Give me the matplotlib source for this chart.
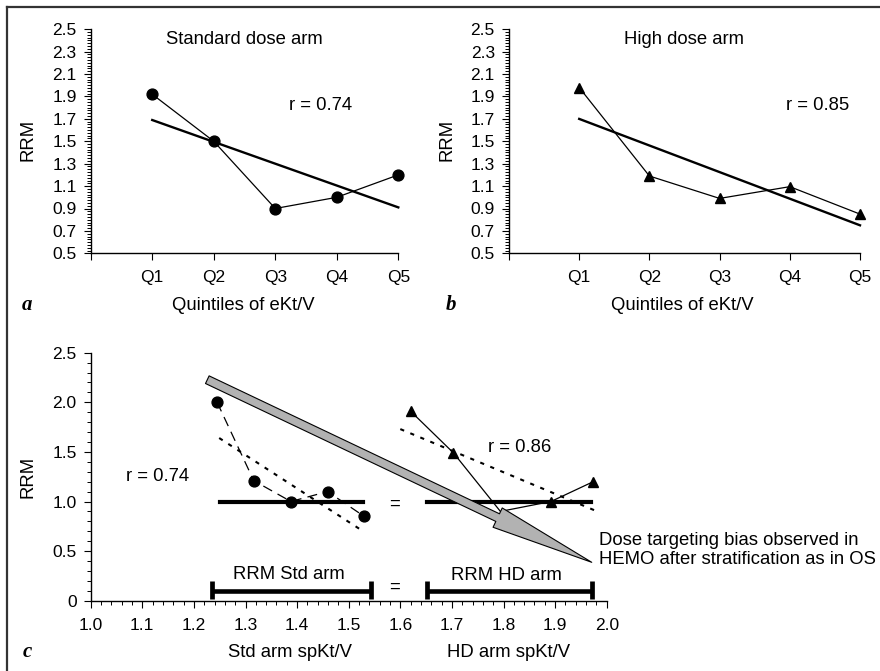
import matplotlib
matplotlib.use('Agg')
import matplotlib.pyplot as plt
from matplotlib.ticker import MultipleLocator, FixedLocator, FuncFormatter
from matplotlib.lines import Line2D

plt.rcParams['font.family'] = ['Liberation Sans', 'DejaVu Sans']

# ---------------- data ----------------
quintiles = ['Q1', 'Q2', 'Q3', 'Q4', 'Q5']
std_rrm = [1.92, 1.50, 0.90, 1.00, 1.20]
std_fit = [1.69, 0.91]          # regression line at Q1 and Q5
hd_rrm = [1.98, 1.19, 0.99, 1.095, 0.85]
hd_fit = [1.70, 0.75]

c_std_x = [1.245, 1.316, 1.388, 1.459, 1.530]
c_std_y = [2.00, 1.21, 1.00, 1.10, 0.85]
c_std_fit_x = [1.249, 1.528]
c_std_fit_y = [1.64, 0.70]
c_hd_x = [1.620, 1.703, 1.794, 1.892, 1.974]
c_hd_y = [1.91, 1.49, 0.90, 1.00, 1.20]
c_hd_fit_x = [1.600, 1.977]
c_hd_fit_y = [1.73, 0.91]
mean_level = 1.0
mean_std_x = [1.250, 1.528]
mean_hd_x = [1.651, 1.969]
range_level = 0.095
range_std_x = [1.236, 1.543]
range_hd_x = [1.651, 1.971]
arrow_tail = (1.226, 2.228)
arrow_tip = (1.971, 0.387)

TICK_FS = 12.5
TXT_FS = 13.3

fig = plt.figure(figsize=(8.8, 6.71), dpi=100)

# figure frame (top and left edges visible)
fx = 6.7 / 880
fy = 1 - 6.7 / 671
fig.add_artist(Line2D([fx, 1.0], [fy, fy], transform=fig.transFigure, color='#333333', lw=1.6))
fig.add_artist(Line2D([fx, fx], [0.0, fy], transform=fig.transFigure, color='#333333', lw=1.6))


def style_axes(ax):
    for s in ['top', 'right']:
        ax.spines[s].set_visible(False)
    for s in ['left', 'bottom']:
        ax.spines[s].set_linewidth(1.0)
    ax.tick_params(which='major', direction='out', length=5.2, width=0.8,
                   labelsize=TICK_FS, pad=5)
    ax.tick_params(axis='x', which='major', pad=7)
    ax.tick_params(which='minor', direction='out', length=3.0, width=0.7)


def quintile_panel(rect, values, fit, marker, title, rtext, rpos, letter, ylab_x, letter_x):
    ax = fig.add_axes(rect)
    style_axes(ax)
    xs = list(range(1, len(quintiles) + 1))
    ax.plot(xs, values, color='black', lw=0.9, marker=marker, ms=7.8,
            mfc='black', mec='black', clip_on=False, zorder=3)
    ax.plot([xs[0], xs[-1]], fit, color='black', lw=1.7, clip_on=False, zorder=2)
    ax.set_xlim(0, 5)
    ax.set_ylim(0.5, 2.5)
    ax.xaxis.set_major_locator(FixedLocator([0] + xs))
    ax.set_xticklabels([''] + quintiles)
    ax.yaxis.set_major_locator(FixedLocator([0.5 + 0.2 * i for i in range(11)]))
    ax.yaxis.set_major_formatter(FuncFormatter(lambda v, p: '%.1f' % v))
    ax.yaxis.set_minor_locator(MultipleLocator(0.025))
    ax.text(2.49, 2.41, title, fontsize=TXT_FS, ha='center', va='center')
    ax.text(rpos[0], rpos[1], rtext, fontsize=TXT_FS, ha='center', va='center')
    ax.text(0.495, -0.231, 'Quintiles of eKt/V', transform=ax.transAxes,
            fontsize=TXT_FS, ha='center', va='center')
    ax.text(ylab_x, 0.506, 'RRM', transform=ax.transAxes, rotation=90,
            fontsize=TXT_FS, ha='center', va='center')
    ax.text(letter_x, -0.231, letter, transform=ax.transAxes, fontsize=15,
            family='Liberation Serif', weight='bold', style='italic',
            ha='center', va='center')
    return ax


quintile_panel([90.7 / 880, 1 - 253.3 / 671, (398.3 - 90.7) / 880, 224 / 671],
               std_rrm, std_fit, 'o', 'Standard dose arm', 'r = 0.74', (3.73, 1.82),
               'a', -0.204, -0.207)
quintile_panel([509 / 880, 1 - 253.3 / 671, (860 - 509) / 880, 224 / 671],
               hd_rrm, hd_fit, '^', 'High dose arm', 'r = 0.85', (4.39, 1.82),
               'b', -0.177, -0.165)

# ---------------- panel c ----------------
axc = fig.add_axes([90.7 / 880, 1 - 600.7 / 671, 516 / 880, 248 / 671])
style_axes(axc)
axc.set_xlim(1.0, 2.0)
axc.set_ylim(0, 2.5)
axc.xaxis.set_major_locator(MultipleLocator(0.1))
axc.xaxis.set_minor_locator(MultipleLocator(0.02))
axc.xaxis.set_major_formatter(FuncFormatter(lambda v, p: '%.1f' % v))
axc.yaxis.set_major_locator(MultipleLocator(0.5))
axc.yaxis.set_minor_locator(MultipleLocator(0.1))
axc.yaxis.set_major_formatter(FuncFormatter(lambda v, p: '0' if abs(v) < 1e-9 else '%.1f' % v))

# standard arm
axc.plot(c_std_x, c_std_y, color='black', lw=0.9, ls=(0, (8, 5)), marker='o', ms=7.8,
         mfc='black', mec='black', clip_on=False, zorder=3)
axc.plot(c_std_fit_x, c_std_fit_y, color='black', lw=1.5, ls=(0, (2, 3.2)), zorder=2)
# high dose arm
axc.plot(c_hd_x, c_hd_y, color='black', lw=0.9, marker='^', ms=7.8, markevery=[0, 1, 3, 4],
         mfc='black', mec='black', clip_on=False, zorder=3)
axc.plot(c_hd_fit_x, c_hd_fit_y, color='black', lw=1.5, ls=(0, (2, 3.2)), zorder=2)

# mean RRM bars
axc.plot(mean_std_x, [mean_level] * 2, color='black', lw=3.0, zorder=2)
axc.plot(mean_hd_x, [mean_level] * 2, color='black', lw=3.0, zorder=2)
axc.text(1.588, 0.975, '=', fontsize=TXT_FS, ha='center', va='center')

# range bars
for xr in (range_std_x, range_hd_x):
    axc.plot(xr, [range_level] * 2, color='black', lw=3.3, solid_capstyle='butt', clip_on=False)
    axc.vlines(xr, 0.015, 0.20, color='black', lw=3.4, clip_on=False)
axc.text(1.385, 0.26, 'RRM Std arm', fontsize=TXT_FS, ha='center', va='center')
axc.text(1.805, 0.25, 'RRM HD arm', fontsize=TXT_FS, ha='center', va='center')
axc.text(1.588, 0.135, '=', fontsize=TXT_FS, ha='center', va='center')

axc.text(1.13, 1.25, 'r = 0.74', fontsize=TXT_FS, ha='center', va='center')
axc.text(1.832, 1.54, 'r = 0.86', fontsize=TXT_FS, ha='center', va='center')

# big arrow
axc.annotate('', xy=arrow_tip, xytext=arrow_tail, annotation_clip=False, zorder=6,
             arrowprops=dict(arrowstyle='simple,head_length=75,head_width=15.4,tail_width=6.1',
                             mutation_scale=1, fc='#b2b2b2', ec='black', lw=0.8,
                             shrinkA=0, shrinkB=0))
axc.text(1.985, 0.51, 'Dose targeting bias observed in\nHEMO after stratification as in OS',
         fontsize=TXT_FS, ha='left', va='center', clip_on=False, linespacing=1.15)

axc.text(0.386, -0.207, 'Std arm spKt/V', transform=axc.transAxes, fontsize=TXT_FS,
         ha='center', va='center')
axc.text(0.809, -0.207, 'HD arm spKt/V', transform=axc.transAxes, fontsize=TXT_FS,
         ha='center', va='center')
axc.text(-0.1215, 0.5, 'RRM', transform=axc.transAxes, rotation=90, fontsize=TXT_FS,
         ha='center', va='center')
axc.text(-0.1234, -0.207, 'c', transform=axc.transAxes, fontsize=15,
         family='Liberation Serif', weight='bold', style='italic', ha='center', va='center')

fig.savefig('out.png', dpi=100)
